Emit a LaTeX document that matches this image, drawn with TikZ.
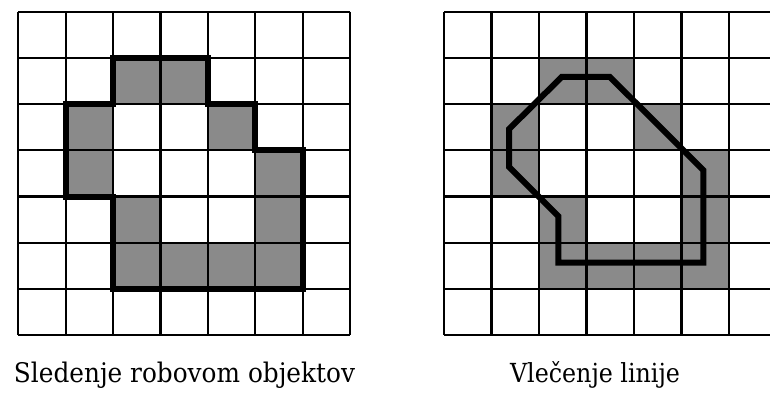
\documentclass[tikz,border=0pt]{standalone}
\usepackage{fontspec}
\setmainfont{DejaVu Serif}
\definecolor{cellgray}{RGB}{138,138,138}
\tikzset{
  gridline/.style={line width=2.2pt, black},
  outline/.style={line width=6pt, black, line join=miter},
  filledcell/.style={fill=cellgray},
  caption/.style={anchor=base, inner sep=0pt}
}
\begin{document}
\begin{tikzpicture}[x=1pt,y=-1pt]
\useasboundingbox (0,0) rectangle (770,394);
\fill[white] (0,0) rectangle (770,394);
% left grid
\begin{scope}[xshift=18.3pt, yshift=-11.7pt, x=47.4pt, y=-46.2pt]
  \foreach \c/\r in {2/1,3/1,1/2,4/2,1/3,5/3,2/4,5/4,2/5,3/5,4/5,5/5}
    \path[filledcell] (\c,\r) rectangle ++(1,1);
  \foreach \i in {0,...,7} {
    \draw[gridline] (\i,0) -- (\i,7);
    \draw[gridline] (0,\i) -- (7,\i);
  }
  \draw[outline] (2,1) -- (4,1) -- (4,2) -- (5,2) -- (5,3) -- (6,3) -- (6,6)
    -- (2,6) -- (2,4) -- (1,4) -- (1,2) -- (2,2) -- cycle;
\end{scope}
% right grid
\begin{scope}
\clip (0,0) rectangle (770,394);
\begin{scope}[xshift=444pt, yshift=-11.7pt, x=47.5pt, y=-46.2pt]
  \foreach \c/\r in {2/1,3/1,1/2,4/2,1/3,5/3,2/4,5/4,2/5,3/5,4/5,5/5}
    \path[filledcell] (\c,\r) rectangle ++(1,1);
  \foreach \i in {0,...,7} {
    \draw[gridline] (\i,0) -- (\i,7);
    \draw[gridline] (0,\i) -- (7,\i);
  }
  \draw[outline] (2.48,1.41) -- (3.49,1.41) -- (5.46,3.43) -- (5.46,5.43)
    -- (2.41,5.43) -- (2.41,4.43) -- (1.37,3.36) -- (1.37,2.54) -- cycle;
\end{scope}
\end{scope}
\node[caption] (lefttext) at (184.5,382) {\resizebox{341pt}{20.5pt}{Sledenje robovom objektov}};
\node[caption] (righttext) at (595,382) {\resizebox{170pt}{21pt}{Vlečenje linije}};
\end{tikzpicture}
\end{document}
